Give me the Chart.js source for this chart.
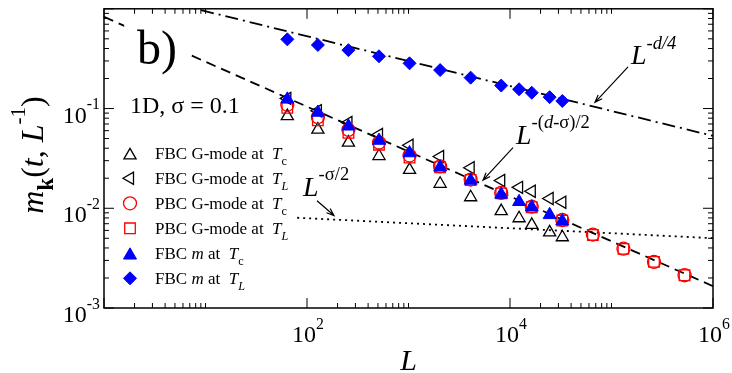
<!DOCTYPE html>
<html>
<head>
<meta charset="utf-8">
<script src="https://cdn.jsdelivr.net/npm/chart.js@4.4.0/dist/chart.umd.min.js"></script>
<style>
  html, body { margin: 0; padding: 0; background: #fff; }
  #wrap { width: 732px; height: 373px; }
</style>
</head>
<body>
<div id="wrap"><canvas id="chart" width="732" height="373"></canvas></div>
<script>
// system sizes
var sizesFBC = [64, 128, 256, 512, 1024, 2048, 4096, 8192, 12288, 16384, 24576, 32768];
var sizesPBC = [64, 128, 256, 512, 1024, 2048, 4096, 8192, 16384, 32768, 65536, 131072, 262144, 524288];

// magnetization values
var fbcGTc = [0.0839, 0.0615, 0.0455, 0.0334, 0.0243, 0.0176, 0.0129, 0.00936, 0.00794, 0.00681, 0.00574, 0.00512];
var fbcGTL = [0.1264, 0.0951, 0.0724, 0.0549, 0.0429, 0.0330, 0.0255, 0.0190, 0.0162, 0.0148, 0.01253, 0.01149];
var pbcGTc = [0.109, 0.0820, 0.0611, 0.0455, 0.0338, 0.0263, 0.0194, 0.01426, 0.01037, 0.00763, 0.00545, 0.00393, 0.00290, 0.00213];
var pbcGTL = [0.1018, 0.0761, 0.0571, 0.0434, 0.0323, 0.0258, 0.0192, 0.01410, 0.01025, 0.00753, 0.00540, 0.00392, 0.00290, 0.00213];
var fbcMTc = [0.1236, 0.0913, 0.0664, 0.0478, 0.0358, 0.0258, 0.0190, 0.01378, 0.01162, 0.01025, 0.00859, 0.00743];
var fbcMTL = [0.494, 0.434, 0.385, 0.334, 0.284, 0.243, 0.204, 0.170, 0.156, 0.144, 0.130, 0.119];

// guide lines (end points)
var guideD4L = [1, 1e6],   guideD4M = [1.68, 0.0532];      // L^-d/4
var guideDSL = [1, 1e6],   guideDSM = [0.83, 0.001656];    // L^-(d-sigma)/2
var guideSL  = [80, 1e6],  guideSM  = [0.00803, 0.00501];  // L^-sigma/2

// axes
var xMajor = [1, 1e2, 1e4, 1e6];
var xLabelExp = [null, '2', '4', '6'];
var xMinorDecades = [1, 1e2, 1e4];
var yMajor = [1e-3, 1e-2, 1e-1, 1];
var yLabelExp = ['-3', '-2', '-1', null];

function pts(xs, ys) {
    return xs.map(function (x, i) { return {x: x, y: ys[i]}; });
}

var serif = '"Liberation Serif", "Times New Roman", serif';
function font(size, style) {
    return (style || 'normal') + ' ' + size.toFixed(1) + 'px ' + serif;
}

function markerSet(label, xs, ys, style, color, filled, radius, rotation, order) {
    return {
        label: label,
        data: pts(xs, ys),
        showLine: false,
        pointStyle: style,
        pointRadius: radius,
        pointRotation: rotation || 0,
        pointBorderColor: color,
        pointBackgroundColor: filled ? color : 'rgba(0,0,0,0)',
        pointBorderWidth: filled ? 1 : 1.3,
        borderColor: color,
        backgroundColor: filled ? color : 'rgba(0,0,0,0)',
        order: order
    };
}

function guideSet(xs, ys, dash, order) {
    return {
        data: pts(xs, ys),
        showLine: true,
        pointRadius: 0,
        borderColor: '#000',
        borderWidth: 1.8,
        borderDash: dash,
        fill: false,
        clip: 0,
        order: order
    };
}

var datasets = [
    guideSet(guideD4L, guideD4M, [13, 5, 2, 5], 20),
    guideSet(guideDSL, guideDSM, [10, 6], 21),
    guideSet(guideSL, guideSM, [2, 4], 22),
    markerSet('FBC G-mode Tc', sizesFBC, fbcGTc, 'triangle', '#000', false, 7, 0, 10),
    markerSet('FBC G-mode TL', sizesFBC, fbcGTL, 'triangle', '#000', false, 7, -90, 9),
    markerSet('PBC G-mode Tc', sizesPBC, pbcGTc, 'circle', '#ff0000', false, 6.5, 0, 8),
    markerSet('PBC G-mode TL', sizesPBC, pbcGTL, 'rect', '#ff0000', false, 7.5, 0, 7),
    markerSet('FBC m Tc', sizesFBC, fbcMTc, 'triangle', '#0000ff', true, 7.5, 0, 6),
    markerSet('FBC m TL', sizesFBC, fbcMTL, 'rectRot', '#0000ff', true, 6.5, 0, 5)
];

// legend rows
var legendRows = [
    {set: 3, parts: [['FBC G-mode at  ', ''], ['T', 'italic'], ['c', 'sub']]},
    {set: 4, parts: [['FBC G-mode at  ', ''], ['T', 'italic'], ['L', 'subit']]},
    {set: 5, parts: [['PBC G-mode at  ', ''], ['T', 'italic'], ['c', 'sub']]},
    {set: 6, parts: [['PBC G-mode at  ', ''], ['T', 'italic'], ['L', 'subit']]},
    {set: 7, parts: [['FBC ', ''], ['m', 'italic'], [' at  ', ''], ['T', 'italic'], ['c', 'sub']]},
    {set: 8, parts: [['FBC ', ''], ['m', 'italic'], [' at  ', ''], ['T', 'italic'], ['L', 'subit']]}
];

function partFont(p, size) {
    if (p[1] === 'sub') return {f: font(size * 0.72), dy: size * 0.35};
    if (p[1] === 'subit') return {f: font(size * 0.72, 'italic'), dy: size * 0.35};
    if (p[1] === 'sup') return {f: font(size * 0.66), dy: -size * 0.55};
    if (p[1] === 'supit') return {f: font(size * 0.66, 'italic'), dy: -size * 0.55};
    if (p[1] === 'bsub') return {f: font(size * 0.72, 'bold'), dy: size * 0.3};
    return {f: font(size, p[1] || 'normal'), dy: 0};
}

function richText(ctx, parts, x, y, size) {
    parts.forEach(function (p) {
        var pf = partFont(p, size);
        ctx.font = pf.f;
        ctx.fillText(p[0], x, y + pf.dy);
        x += ctx.measureText(p[0]).width;
    });
    return x;
}

function richWidth(ctx, parts, size) {
    var w = 0;
    parts.forEach(function (p) {
        ctx.font = partFont(p, size).f;
        w += ctx.measureText(p[0]).width;
    });
    return w;
}

function arrow(ctx, x1, y1, x2, y2) {
    var a = Math.atan2(y2 - y1, x2 - x1), h = 8;
    ctx.beginPath();
    ctx.moveTo(x1, y1);
    ctx.lineTo(x2, y2);
    ctx.moveTo(x2 - h * Math.cos(a - 0.35), y2 - h * Math.sin(a - 0.35));
    ctx.lineTo(x2, y2);
    ctx.lineTo(x2 - h * Math.cos(a + 0.35), y2 - h * Math.sin(a + 0.35));
    ctx.stroke();
}

var decor = {
    id: 'decor',
    afterDatasetsDraw: function (chart) {
        var ctx = chart.ctx, area = chart.chartArea;
        var xs = chart.scales.x, ys = chart.scales.y;
        function px(v) { return xs.getPixelForValue(v); }
        function py(v) { return ys.getPixelForValue(v); }

        ctx.save();
        ctx.fillStyle = '#000';
        ctx.strokeStyle = '#000';
        ctx.textBaseline = 'alphabetic';

        // panel label with white backing
        ctx.fillStyle = '#fff';
        ctx.fillRect(px(1.58), py(0.75), px(6.6) - px(1.58), py(0.24) - py(0.75));
        ctx.fillStyle = '#000';
        richText(ctx, [['b)', '']], px(2.11), py(0.280), 48);

        richText(ctx, [['1D, σ = 0.1', '']], px(1.80), py(0.0899), 24);

        // guide line annotations
        ctx.lineWidth = 1.2;
        richText(ctx, [['L', 'italic'], ['-d/4', 'supit']], px(1.556e5), py(0.280), 28);
        arrow(ctx, px(1.455e5), py(0.262), px(6.88e4), py(0.1154));
        richText(ctx, [['L', 'italic'], ['-(', 'sup'], ['d', 'supit'], ['-σ)/2', 'sup']], px(1.146e4), py(0.0444), 28);
        arrow(ctx, px(1.071e4), py(0.0406), px(5420), py(0.01915));
        richText(ctx, [['L', 'italic'], ['-σ/2', 'sup']], px(91.4), py(0.01331), 28);
        arrow(ctx, px(125.5), py(0.01189), px(184.5), py(0.00845));

        // legend
        var lx = area.left + 26, ly = area.top + 144.5;
        legendRows.forEach(function (row, i) {
            var ds = chart.data.datasets[row.set];
            var y = ly + i * 25;
            ctx.strokeStyle = ds.pointBorderColor;
            ctx.fillStyle = ds.pointBackgroundColor;
            ctx.lineWidth = ds.pointBorderWidth;
            Chart.helpers.drawPoint(ctx, {
                pointStyle: ds.pointStyle,
                radius: ds.pointRadius,
                rotation: ds.pointRotation,
                borderWidth: ds.pointBorderWidth
            }, lx, y + (ds.pointStyle === 'triangle' && !ds.pointRotation ? 2 : 0));
            ctx.fillStyle = '#000';
            richText(ctx, row.parts, lx + 25, y + 5.5, 17);
        });

        // frame
        ctx.strokeStyle = '#000';
        ctx.lineWidth = 1.5;
        ctx.strokeRect(area.left, area.top, area.right - area.left, area.bottom - area.top);

        // ticks (inward, on all four sides)
        ctx.lineWidth = 1;
        ctx.beginPath();
        xMajor.forEach(function (v) {
            var x = px(v);
            ctx.moveTo(x, area.bottom); ctx.lineTo(x, area.bottom - 10);
            ctx.moveTo(x, area.top); ctx.lineTo(x, area.top + 10);
        });
        xMinorDecades.forEach(function (d) {
            for (var k = 2; k <= 10; k++) {
                var x = px(k * d);
                ctx.moveTo(x, area.bottom); ctx.lineTo(x, area.bottom - 5);
                ctx.moveTo(x, area.top); ctx.lineTo(x, area.top + 5);
            }
        });
        yMajor.forEach(function (v, i) {
            var y = py(v);
            ctx.moveTo(area.left, y); ctx.lineTo(area.left + 10, y);
            ctx.moveTo(area.right, y); ctx.lineTo(area.right - 10, y);
            if (i < yMajor.length - 1) {
                for (var k = 2; k <= 9; k++) {
                    var ym = py(k * v);
                    ctx.moveTo(area.left, ym); ctx.lineTo(area.left + 5, ym);
                    ctx.moveTo(area.right, ym); ctx.lineTo(area.right - 5, ym);
                }
            }
        });
        ctx.stroke();

        // tick labels
        ctx.fillStyle = '#000';
        xMajor.forEach(function (v, i) {
            if (!xLabelExp[i]) return;
            var parts = [['10', ''], [xLabelExp[i], 'sup']];
            var w = richWidth(ctx, parts, 24);
            richText(ctx, parts, px(v) - w / 2 + 1, area.bottom + 34, 24);
        });
        yMajor.forEach(function (v, i) {
            if (!yLabelExp[i]) return;
            var parts = [['10', ''], [yLabelExp[i], 'sup']];
            var w = richWidth(ctx, parts, 24);
            richText(ctx, parts, area.left - 4 - w, py(v) + 14, 24);
        });

        // axis titles
        ctx.font = font(30, 'italic');
        ctx.textAlign = 'center';
        ctx.fillText('L', (area.left + area.right) / 2, 370);
        ctx.textAlign = 'left';

        var yParts = [['m', 'italic'], ['k', 'bsub'], ['(', ''], ['t', 'italic'], [', ', ''], ['L', 'italic'], ['-1', 'sup'], [')', '']];
        var yw = richWidth(ctx, yParts, 32);
        ctx.translate(43, 155);
        ctx.rotate(-Math.PI / 2);
        richText(ctx, yParts, -yw / 2, 0, 32);
        ctx.restore();
    }
};

new Chart(document.getElementById('chart'), {
    type: 'scatter',
    data: {datasets: datasets},
    options: {
        responsive: false,
        devicePixelRatio: 1,
        animation: false,
        layout: {padding: {left: 104, top: 4, right: 19, bottom: 65}},
        plugins: {
            legend: {display: false},
            tooltip: {enabled: false}
        },
        scales: {
            x: {type: 'logarithmic', min: 1, max: 1e6, display: false},
            y: {type: 'logarithmic', min: 1e-3, max: 1, display: false}
        }
    },
    plugins: [decor]
});
</script>
</body>
</html>
